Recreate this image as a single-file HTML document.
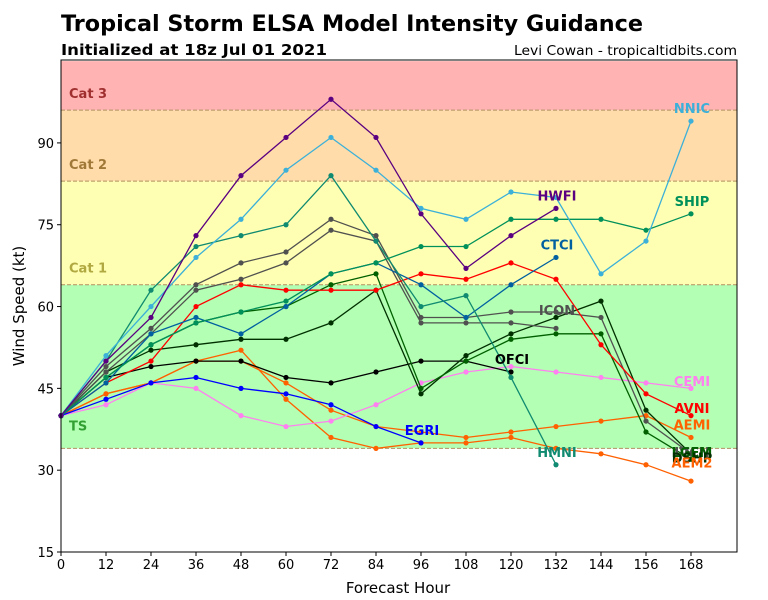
<!DOCTYPE html>
<html><head><meta charset="utf-8">
<style>
html,body{margin:0;padding:0;background:#fff;}
svg{display:block;font-family:"DejaVu Sans","Liberation Sans",sans-serif;}
</style></head>
<body>
<svg id="chart" width="768" height="600" viewBox="0 0 768 600" xmlns="http://www.w3.org/2000/svg">
<text x="61" y="31" font-size="22" font-weight="bold" textLength="582" lengthAdjust="spacingAndGlyphs">Tropical Storm ELSA Model Intensity Guidance</text>
<text x="61" y="55" font-size="15" font-weight="bold" textLength="266" lengthAdjust="spacingAndGlyphs">Initialized at 18z Jul 01 2021</text>
<text x="737" y="55" font-size="13" text-anchor="end" textLength="223" lengthAdjust="spacingAndGlyphs">Levi Cowan - tropicaltidbits.com</text>
<g id="plot"></g>
</svg>
<script>
const hours = [0,12,24,36,48,60,72,84,96,108,120,132,144,156,168];
const yTicks = [15,30,45,60,75,90];
const bandNames = ["TS","Cat 1","Cat 2","Cat 3"];
const bandLows = [34,64,83,96];
const bandHighs = [64,83,96,105];
const nnic = [40,51,60,69,76,85,91,85,78,76,81,80,66,72,94];
const hwfi = [40,50,58,73,84,91,98,91,77,67,73,78];
const ship = [40,47,53,57,59,61,66,68,71,71,76,76,76,74,77];
const hmni = [40,50,63,71,73,75,84,72,60,62,47,31];
const ctci = [40,46,55,58,55,60,66,68,64,58,64,69];
const icon = [40,49,56,64,68,70,76,73,58,58,59,59,58,39,33];
const ivcn = [40,48,55,63,65,68,74,72,57,57,57,56];
const lgem = [40,47,53,57,59,60,64,66,45,50,54,55,55,37,32];
const dshp = [40,48,52,53,54,54,57,63,44,51,55,58,61,41,33];
const avni = [40,46,50,60,64,63,63,63,66,65,68,65,53,44,40];
const ofci = [40,47,49,50,50,47,46,48,50,50,48];
const egri = [40,43,46,47,45,44,42,38,35];
const cemi = [40,42,46,45,40,38,39,42,46,48,49,48,47,46,45];
const aemi = [40,44,46,50,50,46,41,38,37,36,37,38,39,40,36];
const aem2 = [40,44,46,50,52,43,36,34,35,35,36,34,33,31,28];
const seriesNames = ["NNIC","HWFI","SHIP","HMNI","CTCI","ICON","IVCN","LGEM","DSHP","AVNI","OFCI","EGRI","CEMI","AEMI","AEM2"];
const labelHours = [168,132,168,132,132,132,168,168,168,168,120,96,168,168,168];
const labelValues = [96,80,79,33,71,59,33,33,32,41,50,37,46,38,31];

const L=61,R=737,T=60,B=552,XMAX=180.27,YMIN=15,YMAX=105.2;
const xs=h=>L+(R-L)*h/XMAX;
const ys=v=>B-(B-T)*(v-YMIN)/(YMAX-YMIN);
const NS="http://www.w3.org/2000/svg";
const g=document.getElementById('plot');
function mk(tag,at){const e=document.createElementNS(NS,tag);for(const k in at)e.setAttribute(k,at[k]);g.appendChild(e);return e;}

const bandFill=["#b3ffb3","#ffffb3","#ffdcaa","#ffb3b3"];
const bandText=["#33a033","#b0a840","#a07838","#a03030"];
bandNames.forEach((n,i)=>{
  const r=mk('rect',{x:L,y:ys(bandHighs[i]),width:R-L,height:ys(bandLows[i])-ys(bandHighs[i]),fill:bandFill[i]});
  
  
  const ln=mk('line',{x1:L,x2:R,y1:ys(bandLows[i]),y2:ys(bandLows[i]),stroke:"#b09060","stroke-dasharray":"4,2","stroke-width":1});
  
  
  const t=mk('text',{x:69,y:ys(bandLows[i])-12,"font-size":13,"font-weight":"bold",fill:bandText[i]});
  t.textContent=n;
  
  
});
const tsl=g.querySelectorAll('text')[0];tsl.setAttribute('y',ys(34)+1-(ys(34)-ys(37.5)));

const colors={NNIC:"#3cb0d8",HWFI:"#5a0080",SHIP:"#00905a",HMNI:"#108a70",CTCI:"#0060a0",ICON:"#505050",IVCN:"#505050",LGEM:"#006000",DSHP:"#003000",AVNI:"#ff0000",OFCI:"#000000",EGRI:"#0000ff",CEMI:"#ff80f0",AEMI:"#ff6000",AEM2:"#ff6000"};
const data={NNIC:nnic,HWFI:hwfi,SHIP:ship,HMNI:hmni,CTCI:ctci,ICON:icon,IVCN:ivcn,LGEM:lgem,DSHP:dshp,AVNI:avni,OFCI:ofci,EGRI:egri,CEMI:cemi,AEMI:aemi,AEM2:aem2};
const order=["AEM2","AEMI","CEMI","EGRI","OFCI","DSHP","LGEM","IVCN","ICON","AVNI","CTCI","HMNI","SHIP","NNIC","HWFI"];
order.forEach(n=>{
  const vals=data[n];
  const pts=vals.map((v,i)=>xs(hours[i]).toFixed(1)+","+ys(v).toFixed(1)).join(" ");
  const pl=mk('polyline',{points:pts,fill:"none",stroke:colors[n],"stroke-width":1.3});
  
  
  vals.forEach((v,i)=>{
    const c=mk('circle',{cx:xs(hours[i]),cy:ys(v),r:2.6,fill:colors[n]});
    
    
  });
});
seriesNames.forEach((n,i)=>{
  const t=mk('text',{x:xs(labelHours[i])+1,y:ys(labelValues[i])+3,"font-size":13,"font-weight":"bold",fill:colors[n],"text-anchor":"middle"});
  t.textContent=n;
  
  
});
const fr=mk('rect',{x:L,y:T,width:R-L,height:B-T,fill:"none",stroke:"#000","stroke-width":1});


hours.forEach(h=>{
  const tk=mk('line',{x1:xs(h),x2:xs(h),y1:B,y2:B+4,stroke:"#000"});
  
  
  const t=mk('text',{x:xs(h),y:B+17,"font-size":13,"text-anchor":"middle"});
  t.textContent=h;
  
  
});
yTicks.forEach(v=>{
  const tk=mk('line',{x1:L-4,x2:L,y1:ys(v),y2:ys(v),stroke:"#000"});
  
  
  const t=mk('text',{x:L-7,y:ys(v)+5,"font-size":13,"text-anchor":"end"});
  t.textContent=v;
  
  
});
const xt=mk('text',{x:(L+R)/2-1,y:593,"font-size":15,"text-anchor":"middle"});
xt.textContent="Forecast Hour";


const yt=mk('text',{x:0,y:0,"font-size":15,"text-anchor":"middle",transform:"translate(24,306) rotate(-90)"});
yt.textContent="Wind Speed (kt)";


</script>
</body></html>
